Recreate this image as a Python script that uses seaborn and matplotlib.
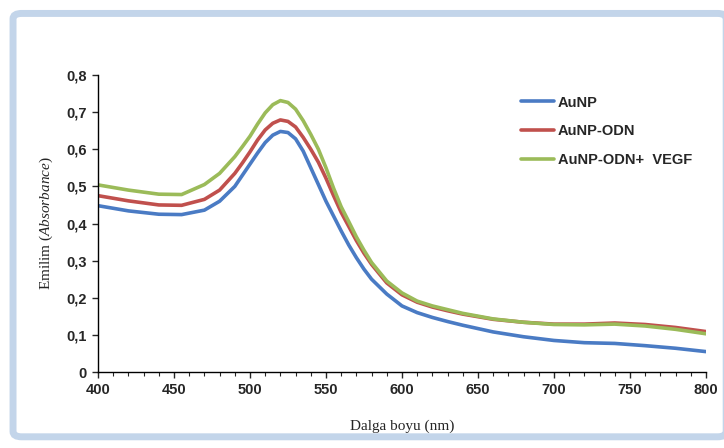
import matplotlib
matplotlib.use('Agg')
import matplotlib.pyplot as plt
import matplotlib.ticker as mticker
from matplotlib.patches import FancyBboxPatch
import seaborn as sns
import pandas as pd

# -- Data --
wavelength = [400, 420, 440, 455, 470, 480, 490, 495, 500, 505, 510, 515, 520,
              525, 530, 535, 540, 545, 550, 555, 560, 565, 570, 575, 580, 590,
              600, 610, 620, 630, 640, 660, 680, 700, 720, 740, 760, 780, 800]
aunp = [0.448, 0.434, 0.425, 0.424, 0.436, 0.460, 0.500, 0.530, 0.560, 0.590,
        0.618, 0.638, 0.648, 0.645, 0.628, 0.595, 0.550, 0.505, 0.460, 0.420,
        0.380, 0.342, 0.308, 0.277, 0.250, 0.210, 0.178, 0.160, 0.147, 0.136,
        0.126, 0.108, 0.095, 0.085, 0.079, 0.077, 0.071, 0.064, 0.055]
aunp_odn = [0.475, 0.461, 0.450, 0.449, 0.465, 0.490, 0.535, 0.563, 0.593, 0.625,
            0.652, 0.670, 0.679, 0.675, 0.660, 0.632, 0.600, 0.565, 0.522, 0.475,
            0.430, 0.392, 0.354, 0.320, 0.290, 0.240, 0.208, 0.188, 0.175, 0.165,
            0.156, 0.142, 0.134, 0.129, 0.129, 0.132, 0.128, 0.120, 0.109]
aunp_odn_vegf = [0.504, 0.490, 0.479, 0.478, 0.505, 0.535, 0.580, 0.607, 0.635, 0.668,
                 0.698, 0.720, 0.731, 0.726, 0.708, 0.677, 0.640, 0.600, 0.550, 0.495,
                 0.445, 0.405, 0.364, 0.328, 0.295, 0.245, 0.213, 0.191, 0.178, 0.168,
                 0.158, 0.143, 0.134, 0.128, 0.127, 0.129, 0.124, 0.115, 0.103]
series_names = ['AuNP', 'AuNP-ODN', 'AuNP-ODN+  VEGF']
colors = ['#4A7BC4', '#C0504D', '#9BBB59']

df = pd.DataFrame({
    'wl': wavelength * 3,
    'abs': aunp + aunp_odn + aunp_odn_vegf,
    'sample': [n for n in series_names for _ in wavelength],
})

# -- Style --
sns.set_style('ticks')
plt.rcParams['font.family'] = ['Liberation Sans', 'DejaVu Sans']
plt.rcParams['mathtext.fontset'] = 'custom'
plt.rcParams['mathtext.rm'] = 'Liberation Serif'
plt.rcParams['mathtext.it'] = 'Liberation Serif:italic'

fig = plt.figure(figsize=(7.24, 4.48), dpi=100)
fig.patch.set_facecolor('white')

# light blue rounded frame around the chart
frame = FancyBboxPatch((0.018, 0.025), 0.985, 0.945, boxstyle='round,pad=0,rounding_size=0.012',
                       transform=fig.transFigure, facecolor='white', edgecolor='#c3d5ea',
                       linewidth=5, zorder=-1)
fig.patches.append(frame)

ax = fig.add_axes([0.1354, 0.1696, 0.8396, 0.663])
ax.set_facecolor('none')

sns.lineplot(data=df, x='wl', y='abs', hue='sample', palette=colors,
             linewidth=2.6, ax=ax, legend=True)

ax.set_xlim(400, 800)
ax.set_ylim(0, 0.8)
ax.xaxis.set_major_locator(mticker.MultipleLocator(50))
ax.xaxis.set_minor_locator(mticker.MultipleLocator(10))
ax.yaxis.set_major_locator(mticker.MultipleLocator(0.1))
ax.yaxis.set_major_formatter(mticker.FuncFormatter(
    lambda v, p: '0' if abs(v) < 1e-9 else f'{v:.1f}'.replace('.', ',')))
ax.tick_params(axis='both', which='major', length=4, width=1, labelsize=10.5, pad=4)
ax.tick_params(axis='x', which='minor', length=3, width=0.8)
for lbl in ax.get_xticklabels() + ax.get_yticklabels():
    lbl.set_fontweight('bold')
sns.despine(ax=ax)
for sp in ['left', 'bottom']:
    ax.spines[sp].set_linewidth(1)
    ax.spines[sp].set_color('black')

ax.set_xlabel('Dalga boyu (nm)', fontfamily='Liberation Serif', fontsize=11, labelpad=16)
ax.set_ylabel(r'$\mathrm{Emilim\ (}\mathit{Absorbance}\mathrm{)}$', fontsize=11, labelpad=8)

leg = ax.legend(loc='upper left', bbox_to_anchor=(0.675, 0.975), frameon=False,
                handlelength=2.2, handletextpad=0.3, labelspacing=1.0,
                prop={'weight': 'bold', 'size': 10.5})
for h in leg.get_lines():
    h.set_linewidth(2.6)

plt.savefig('out.png', dpi=100, facecolor='white')
